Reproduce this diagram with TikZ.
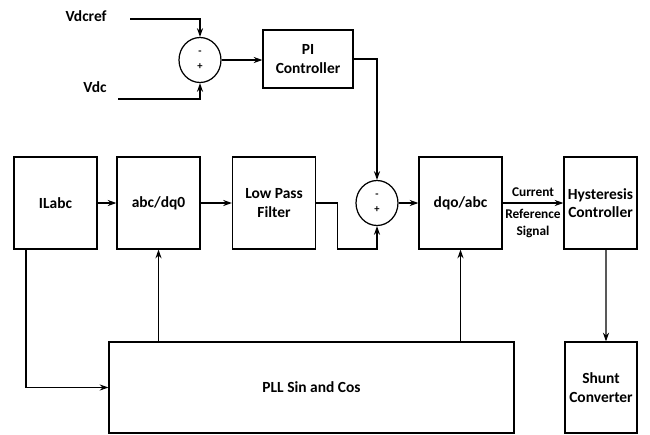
\documentclass[tikz,border=0pt]{standalone}
\usepackage{fontspec}
\setmainfont{Carlito}
\usetikzlibrary{arrows.meta,shapes.geometric}

\tikzset{
  block/.style={draw, line width=0.7pt, minimum width=1.66cm, minimum height=1.84cm,
    align=center, inner sep=2pt, font=\fontsize{8.8}{10.5}\selectfont\bfseries},
  sumnode/.style={draw, ellipse, line width=0.7pt, minimum width=0.84cm, minimum height=0.9cm,
    inner sep=0pt, align=center, font=\fontsize{6}{8.5}\selectfont\bfseries},
  sig/.style={font=\fontsize{8.8}{10.5}\selectfont\bfseries},
  lbl/.style={font=\fontsize{7.6}{9.5}\selectfont\bfseries, align=center},
}

\begin{document}
\begin{tikzpicture}[x=0.02cm, y=-0.02cm, >={Stealth[length=5pt,width=3.5pt]}, line width=0.6pt]
    \useasboundingbox (0,0) rectangle (650,434);

    % dc voltage loop
    \node[sumnode] (sumdc) at (200,60) {-\\+};
    \node[block, minimum width=1.8cm, minimum height=1.16cm] (pi) at (308,59) {PI\\Controller};
    \node[sig, anchor=east] (vdcref) at (113,16) {Vdcref};
    \node[sig, anchor=east] (vdc) at (113,87) {Vdc};
    \coordinate (vrefin) at (130,19);
    \coordinate (vdcin) at (118,99);

    % main row
    \node[block] (ilabc) at (55.5,203) {ILabc};
    \node[block] (abc) at (158.5,203) {abc/dq0};
    \node[block] (lpf) at (274,203) {Low Pass\\Filter};
    \node[sumnode] (sumi) at (377,203) {-\\+};
    \node[block] (dqo) at (460.5,203) {dqo/abc};
    \node[block, minimum width=1.46cm] (hyst) at (600.5,203) {Hysteresis\\Controller};

    % bottom row
    \node[block, minimum width=8.1cm, minimum height=1.82cm] (pll) at (311.5,387.5) {PLL Sin and Cos};
    \node[block, minimum width=1.44cm, minimum height=1.82cm] (shunt) at (601,387.5) {Shunt\\Converter};

    \draw[->] (vrefin) -| (sumdc.north);
    \draw[->] (vdcin) -| (sumdc.south);
    \draw[->] (sumdc.east) -- (sumdc.east -| pi.west);
    \draw[->] (pi.east) -| (sumi.north);

    \draw[->] (ilabc) -- (abc);
    \draw[->] (abc) -- (lpf);
    \draw[->] (lpf.east) -- ++(21,0) -- ++(0,46) -| (sumi.south);
    \draw[->] (sumi) -- (dqo);
    \draw[->] (dqo) -- node[lbl, above] {Current} node[lbl, below] {Reference\\Signal} (hyst);
    \draw[->] ([xshift=0.11cm]hyst.south) -- ([xshift=0.1cm]shunt.north);

    \draw[->] ([xshift=-0.59cm]ilabc.south) |- (pll.west);
    \draw[->] (pll.north -| abc.south) -- (abc.south);
    \draw[->] (pll.north -| dqo.south) -- (dqo.south);
\end{tikzpicture}
\end{document}
